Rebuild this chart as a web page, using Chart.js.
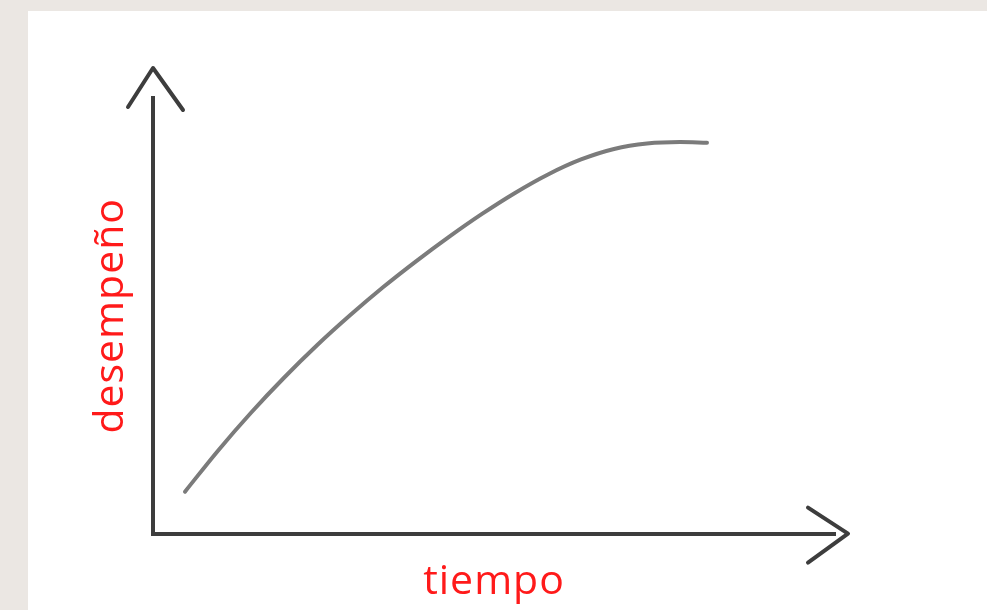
<!DOCTYPE html>
<html>
<head>
<meta charset="utf-8">
<script src="https://cdn.jsdelivr.net/npm/chart.js@4/dist/chart.umd.min.js"></script>
<style>
  html, body { margin: 0; padding: 0; background: #ebe7e3; }
  canvas { display: block; }
</style>
</head>
<body>
<canvas id="c" width="987" height="610"></canvas>
<script>
// Data (arbitrary units 0–100)
const tiempo = [4.69, 9.53, 14.37, 19.21, 24.05, 28.89, 33.72, 38.56, 43.40, 48.24, 53.08, 57.92, 62.76, 67.60, 72.43, 77.27, 81.23];
const desempeno = [9.63, 19.04, 27.75, 35.78, 43.23, 50.11, 56.54, 62.50, 68.12, 73.39, 78.21, 82.45, 85.89, 88.30, 89.56, 89.91, 89.72];
const xLabel = 'tiempo';
const yLabel = 'desempeño';

const points = tiempo.map((x, i) => ({ x: x, y: desempeno[i] }));

const AXIS = '#3d3d3d';
const RED = '#ff1a1a';
const FONT = "'Open Sans', sans-serif";

const paper = {
  id: 'paper',
  beforeDraw(chart) {
    const ctx = chart.ctx;
    ctx.save();
    ctx.fillStyle = '#ebe7e3';
    ctx.fillRect(0, 0, chart.width, chart.height);
    ctx.fillStyle = '#ffffff';
    ctx.fillRect(28, 11, chart.width - 28, chart.height - 11);
    ctx.restore();
    if ('letterSpacing' in ctx) ctx.letterSpacing = '1px';
  }
};

const arrows = {
  id: 'arrows',
  afterDraw(chart) {
    const { left, right, top, bottom } = chart.chartArea;
    const ctx = chart.ctx;
    ctx.save();
    ctx.strokeStyle = AXIS;
    ctx.lineWidth = 4;
    ctx.lineCap = 'round';
    ctx.lineJoin = 'round';
    ctx.beginPath();
    ctx.moveTo(left - 25, top + 9);
    ctx.lineTo(left, top - 30);
    ctx.lineTo(left + 30, top + 12);
    ctx.stroke();
    ctx.beginPath();
    ctx.moveTo(right - 27, bottom - 26);
    ctx.lineTo(right + 13, bottom);
    ctx.lineTo(right - 27, bottom + 29);
    ctx.stroke();
    ctx.restore();
  }
};

new Chart(document.getElementById('c'), {
  type: 'line',
  data: {
    datasets: [{
      data: points,
      borderColor: '#7b7b7b',
      borderWidth: 4,
      borderCapStyle: 'round',
      borderJoinStyle: 'round',
      pointRadius: 0,
      cubicInterpolationMode: 'monotone',
      fill: false
    }]
  },
  options: {
    responsive: false,
    animation: false,
    layout: { padding: { top: 98, right: 152, left: 0, bottom: 0 } },
    plugins: { legend: { display: false }, tooltip: { enabled: false } },
    scales: {
      x: {
        type: 'linear', min: 0, max: 100,
        grid: { display: false, drawTicks: false },
        border: { display: true, color: AXIS, width: 4 },
        ticks: { display: false },
        title: {
          display: true, text: xLabel, color: RED,
          font: { family: FONT, size: 41 },
          padding: { top: 24.6, bottom: 2.6 }
        }
      },
      y: {
        type: 'linear', min: 0, max: 100,
        grid: { display: false, drawTicks: false },
        border: { display: true, color: AXIS, width: 4 },
        ticks: { display: false },
        title: {
          display: true, text: yLabel, color: RED,
          font: { family: FONT, size: 41 },
          padding: { top: 86.4, bottom: 17.4 }
        }
      }
    }
  },
  plugins: [paper, arrows]
});
</script>
</body>
</html>
